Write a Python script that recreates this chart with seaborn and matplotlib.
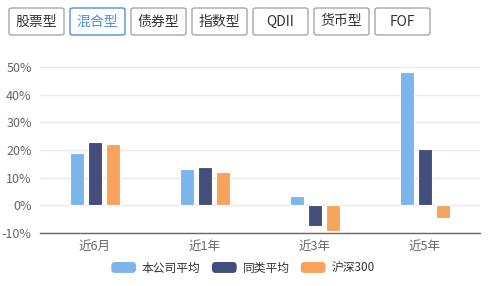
import matplotlib
matplotlib.use("Agg")
import matplotlib.pyplot as plt
from matplotlib.patches import FancyBboxPatch, Patch
from matplotlib.legend_handler import HandlerPatch
from matplotlib.ticker import FuncFormatter, FixedLocator
import seaborn as sns
import pandas as pd

categories = ["近6月", "近1年", "近3年", "近5年"]
series_names = ["本公司平均", "同类平均", "沪深300"]
company_avg = [18.8, 13.0, 3.3, 48.3]
peer_avg = [22.9, 14.0, -7.6, 20.5]
hs300 = [22.1, 12.0, -9.4, -4.6]
buttons = ["股票型", "混合型", "债券型", "指数型", "QDII", "货币型", "FOF"]
selected_button = "混合型"
colors = ["#7cb5ec", "#434e7c", "#f7a35c"]

rows = []
for name, vals in zip(series_names, [company_avg, peer_avg, hs300]):
    for c, v in zip(categories, vals):
        rows.append({"period": c, "value": v, "series": name})
df = pd.DataFrame(rows)

sns.set_theme(style="white")
plt.rcParams["font.family"] = ["Noto Sans CJK SC", "DejaVu Sans"]

W, H = 493, 286
fig = plt.figure(figsize=(W / 100, H / 100), dpi=100)
ax = fig.add_axes([40 / W, 1 - 233 / H, 440 / W, (233 - 67) / H])

sns.barplot(data=df, x="period", y="value", hue="series", order=categories,
            hue_order=series_names, palette=colors, saturation=1, width=0.49, gap=0.17,
            edgecolor="white", linewidth=0.8, ax=ax, legend=False)

ax.set_ylim(-10, 50)
ax.set_xlim(-0.5, 3.5)
ax.set_yticks([-10, 0, 10, 20, 30, 40, 50])
ax.yaxis.set_major_formatter(FuncFormatter(lambda v, p: f"{int(v)}%"))
ax.grid(axis="y", color="#e6e9f2", linewidth=1)
ax.set_axisbelow(True)
for s in ["top", "right", "left"]:
    ax.spines[s].set_visible(False)
ax.spines["bottom"].set_color("#666666")
ax.spines["bottom"].set_linewidth(1)
ax.set_xlabel("")
ax.set_ylabel("")
ax.tick_params(axis="y", length=0, labelsize=9, labelcolor="#666666", pad=6)
ax.tick_params(axis="x", length=0, labelsize=9, labelcolor="#666666", pad=5)
ax.xaxis.set_minor_locator(FixedLocator([-0.5, 0.5, 1.5, 2.5, 3.5]))
ax.tick_params(axis="x", which="minor", length=5, color="#666666", width=1, direction="out")


class RoundHandler(HandlerPatch):
    def create_artists(self, legend, orig_handle, xdescent, ydescent, width, height, fontsize, trans):
        p = FancyBboxPatch((-xdescent, -ydescent), width, height,
                           boxstyle=f"round,pad=0,rounding_size={height * 0.35}",
                           facecolor=orig_handle.get_facecolor(), edgecolor="none",
                           transform=trans)
        return [p]


handles = [Patch(facecolor=c, edgecolor=c, label=n) for c, n in zip(colors, series_names)]
fig.legend(handles=handles, loc="center", bbox_to_anchor=(243 / W, 1 - 268 / H), ncol=3,
           frameon=False, fontsize=8.5, handlelength=2.1, handleheight=1.05,
           columnspacing=0.95, handletextpad=0.5, labelcolor="#333333",
           handler_map={Patch: RoundHandler()})

# filter buttons
bx0, bw, pitch, by0, bh = 9, 55, 61, 8, 27
for i, b in enumerate(buttons):
    x = bx0 + i * pitch
    sel = b == selected_button
    ec = "#4a90e2" if sel else "#a6a6a6"
    tc = "#4a90e2" if sel else "#333333"
    patch = FancyBboxPatch((x / W, 1 - (by0 + bh) / H), bw / W, bh / H,
                           boxstyle="round,pad=0,rounding_size=0.006",
                           transform=fig.transFigure, facecolor="white",
                           edgecolor=ec, linewidth=1)
    fig.patches.append(patch)
    fig.text((x + bw / 2) / W, 1 - (by0 + bh / 2) / H, b, ha="center", va="center",
             fontsize=10, color=tc)

fig.savefig("out.png", dpi=100)
